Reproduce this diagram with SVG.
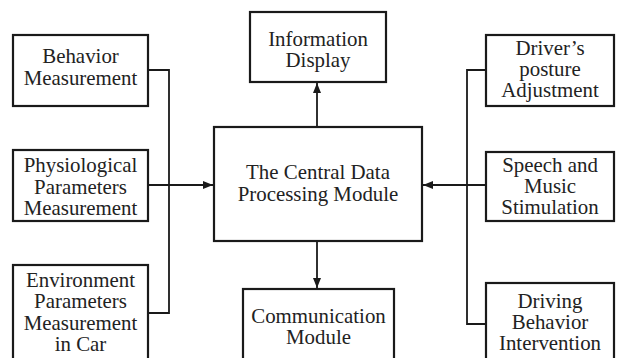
<svg xmlns="http://www.w3.org/2000/svg" width="620" height="358" viewBox="0 0 620 358">
<defs>
<style>
.box{fill:#fff;stroke:#1a1a1a;stroke-width:2.2}
.ln{fill:none;stroke:#1a1a1a;stroke-width:1.8}
text{font-family:"Liberation Serif","Times New Roman",serif;font-size:20px;fill:#222;text-anchor:middle}
</style>
<marker id="ah" viewBox="0 0 10 8" refX="10" refY="4" markerWidth="10" markerHeight="8" markerUnits="userSpaceOnUse" orient="auto">
<path d="M0,0 L10,4 L0,8 Z" fill="#1a1a1a"/>
</marker>
</defs>
<rect width="620" height="358" fill="#fff"/>
<g id="connectors">
<path class="ln" d="M148,70 H169 V313 H148"/>
<path class="ln" d="M148,185 H213" marker-end="url(#ah)"/>
<path class="ln" d="M486,70 H467 V324 H486"/>
<path class="ln" d="M486,185 H423" marker-end="url(#ah)"/>
<path class="ln" d="M317,127 V83" marker-end="url(#ah)"/>
<path class="ln" d="M317,241 V288" marker-end="url(#ah)"/>
</g>
<g id="behavior">
<rect class="box" x="13" y="35" width="135" height="71"/>
<text transform="matrix(1.045 0 0 1 80.5 0)" x="0" y="63">Behavior</text>
<text transform="matrix(1.045 0 0 1 80.5 0)" x="0" y="85">Measurement</text>
</g>
<g id="physiological">
<rect class="box" x="13" y="150" width="135" height="71"/>
<text transform="matrix(1.045 0 0 1 80.5 0)" x="0" y="172">Physiological</text>
<text transform="matrix(1.045 0 0 1 80.5 0)" x="0" y="194">Parameters</text>
<text transform="matrix(1.045 0 0 1 80.5 0)" x="0" y="215">Measurement</text>
</g>
<g id="environment">
<rect class="box" x="13" y="265" width="135" height="100"/>
<text transform="matrix(1.045 0 0 1 80.5 0)" x="0" y="287">Environment</text>
<text transform="matrix(1.045 0 0 1 80.5 0)" x="0" y="308">Parameters</text>
<text transform="matrix(1.045 0 0 1 80.5 0)" x="0" y="330">Measurement</text>
<text transform="matrix(1.045 0 0 1 80.5 0)" x="0" y="351">in Car</text>
</g>
<g id="information">
<rect class="box" x="250" y="12" width="136" height="70"/>
<text transform="matrix(1.045 0 0 1 318 0)" x="0" y="46">Information</text>
<text transform="matrix(1.045 0 0 1 318 0)" x="0" y="67">Display</text>
</g>
<g id="central">
<rect class="box" x="214" y="127" width="208" height="114"/>
<text transform="matrix(1.045 0 0 1 318 0)" x="0" y="179">The Central Data</text>
<text transform="matrix(1.045 0 0 1 318 0)" x="0" y="201">Processing Module</text>
</g>
<g id="communication">
<rect class="box" x="243" y="289" width="151" height="80"/>
<text transform="matrix(1.045 0 0 1 318.5 0)" x="0" y="323">Communication</text>
<text transform="matrix(1.045 0 0 1 318.5 0)" x="0" y="344">Module</text>
</g>
<g id="driver">
<rect class="box" x="486" y="35" width="128" height="71"/>
<text transform="matrix(1.045 0 0 1 550 0)" x="0" y="55">Driver’s</text>
<text transform="matrix(1.045 0 0 1 550 0)" x="0" y="76">posture</text>
<text transform="matrix(1.045 0 0 1 550 0)" x="0" y="97">Adjustment</text>
</g>
<g id="speech">
<rect class="box" x="486" y="152" width="128" height="69"/>
<text transform="matrix(1.045 0 0 1 550 0)" x="0" y="172">Speech and</text>
<text transform="matrix(1.045 0 0 1 550 0)" x="0" y="193">Music</text>
<text transform="matrix(1.045 0 0 1 550 0)" x="0" y="214">Stimulation</text>
</g>
<g id="driving">
<rect class="box" x="486" y="283" width="128" height="90"/>
<text transform="matrix(1.045 0 0 1 550 0)" x="0" y="308">Driving</text>
<text transform="matrix(1.045 0 0 1 550 0)" x="0" y="329">Behavior</text>
<text transform="matrix(1.045 0 0 1 550 0)" x="0" y="350">Intervention</text>
</g>
</svg>
